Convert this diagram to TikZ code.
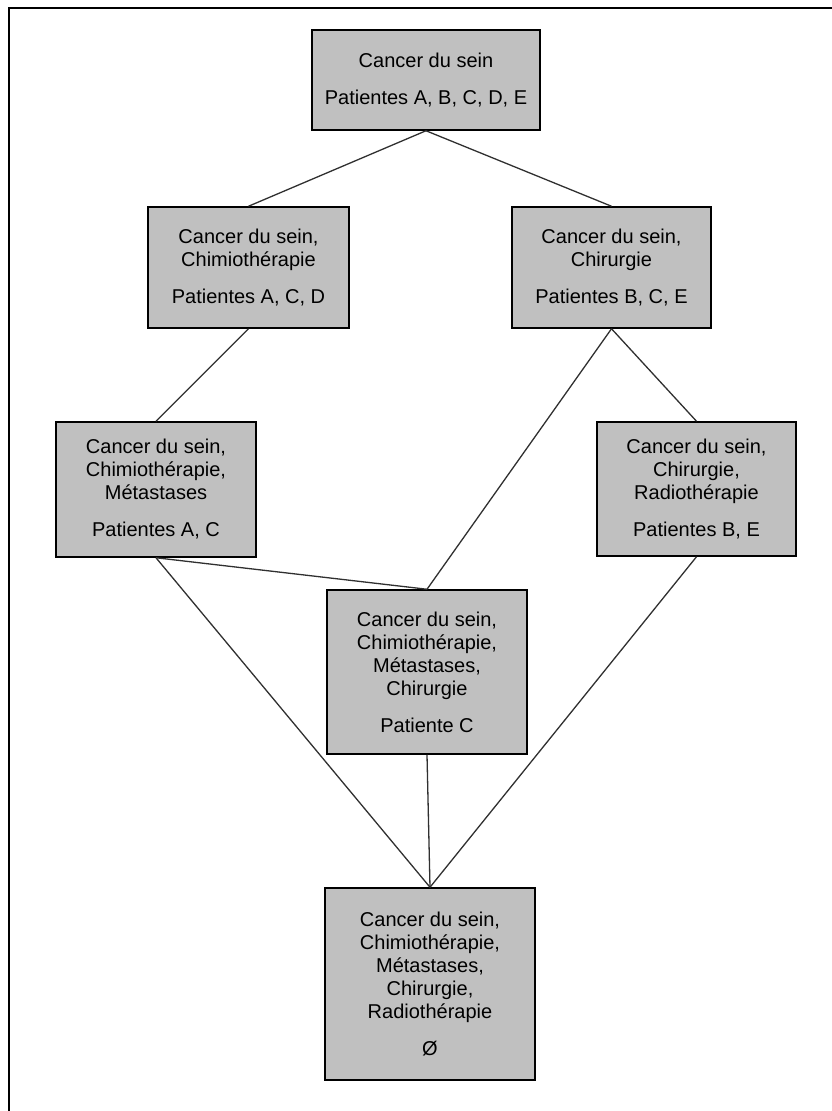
\documentclass[tikz,border=0pt]{standalone}
\usepackage{fontspec}
\setmainfont{Liberation Sans}
\definecolor{boxgray}{HTML}{C0C0C0}
\definecolor{edgegray}{HTML}{303030}
\begin{document}
\begin{tikzpicture}[x=1pt,y=-1pt,
  box/.style={draw=black, fill=boxgray, line width=1.5pt, rectangle, inner sep=0pt,
    align=center, font=\fontsize{20}{23}\selectfont},
  link/.style={draw=edgegray, line width=1.3pt}]
\useasboundingbox (0,0) rectangle (832,1111);
\draw[line width=2.4pt] (9,1115) -- (9,8) -- (836,8);

\node[box, minimum width=228pt, minimum height=100pt] (T) at (426,80)
  {Cancer du sein\\[14pt]Patientes A, B, C, D, E};
\node[box, minimum width=201pt, minimum height=121pt] (A) at (248.5,267.5)
  {Cancer du sein,\\Chimioth\'erapie\\[14pt]Patientes A, C, D};
\node[box, minimum width=199pt, minimum height=121pt] (B) at (611.5,267.5)
  {Cancer du sein,\\Chirurgie\\[14pt]Patientes B, C, E};
\node[box, minimum width=200pt, minimum height=135pt] (C) at (156,489.5)
  {Cancer du sein,\\Chimioth\'erapie,\\M\'etastases\\[14pt]Patientes A, C};
\node[box, minimum width=199pt, minimum height=134pt] (D) at (696.5,489)
  {Cancer du sein,\\Chirurgie,\\Radioth\'erapie\\[14pt]Patientes B, E};
\node[box, minimum width=200pt, minimum height=164pt] (E) at (427,672)
  {Cancer du sein,\\Chimioth\'erapie,\\M\'etastases,\\Chirurgie\\[14pt]Patiente C};
\node[box, minimum width=210pt, minimum height=192pt] (F) at (430,984)
  {Cancer du sein,\\Chimioth\'erapie,\\M\'etastases,\\Chirurgie,\\Radioth\'erapie\\[14pt]\O};

\draw[link] (T.south) -- (A.north);
\draw[link] (T.south) -- (B.north);
\draw[link] (A.south) -- (C.north);
\draw[link] (B.south) -- (E.north);
\draw[link] (B.south) -- (D.north);
\draw[link] (C.south) -- (E.north);
\draw[link] (C.south) -- (F.north);
\draw[link] (D.south) -- (F.north);
\draw[link] (E.south) -- (F.north);
\end{tikzpicture}
\end{document}
